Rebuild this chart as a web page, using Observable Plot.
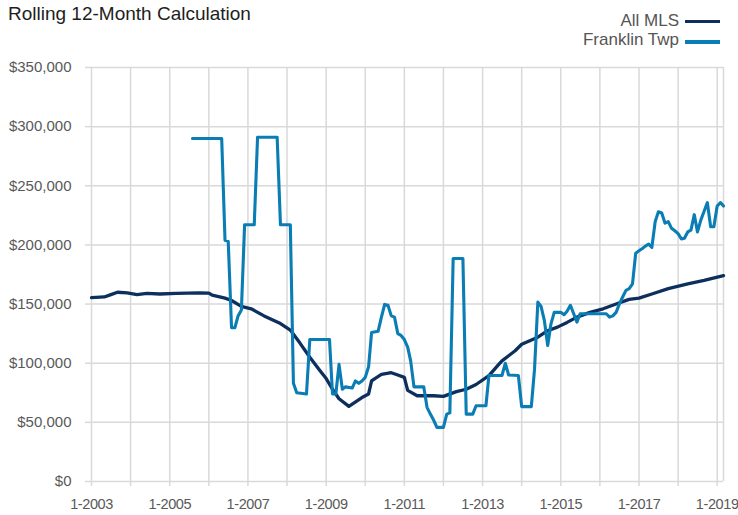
<!DOCTYPE html>
<html>
<head>
<meta charset="utf-8">
<script src="https://cdn.jsdelivr.net/npm/d3@7"></script>
<script src="https://cdn.jsdelivr.net/npm/@observablehq/plot@0.6"></script>
<style>
  html, body { margin: 0; padding: 0; background: #fff; }
  #wrap { position: relative; width: 738px; height: 515px; font-family: "Liberation Sans", Arial, sans-serif; }
  #chart { position: absolute; left: 0; top: 0; }
  #title { position: absolute; left: 8px; top: 4px; font-size: 19px; line-height: 19px; color: #1e1e1e; white-space: nowrap; }
  .leg { position: absolute; right: 59px; font-size: 17px; line-height: 17px; color: #555; white-space: nowrap; }
  .sw { position: absolute; left: 685px; width: 35px; height: 3.3px; }
  .xlab text { letter-spacing: -0.4px; }
</style>
</head>
<body>
<div id="wrap">
  <div id="chart"></div>
  <div id="title">Rolling 12-Month Calculation</div>
</div>
<script>
const seriesNames = ["All MLS", "Franklin Twp"];
const seriesColors = ["#0c2f5e", "#0b7db5"];

const mlsMonths = ["2003-01","2003-05","2003-07","2003-09","2003-12","2004-03","2004-06","2004-10","2005-03","2005-10",
  "2006-01","2006-02","2006-06","2006-08","2006-11","2007-02","2007-06","2007-11","2008-02","2008-05",
  "2008-08","2008-11","2009-01","2009-03","2009-05","2009-08","2009-12","2010-02","2010-03","2010-04",
  "2010-06","2010-09","2010-11","2011-01","2011-02","2011-05","2011-10","2012-01","2012-05","2012-08",
  "2012-11","2013-03","2013-06","2013-07","2013-11","2014-01","2014-06","2014-09","2014-12","2015-03",
  "2015-06","2015-10","2016-02","2016-06","2016-10","2017-01","2017-05","2017-10","2018-04","2018-09","2019-03"];
const mlsValues = [155500,156000,158000,160000,159500,158000,159000,158500,159000,159500,
  159300,157500,155000,153000,148000,146000,140000,133500,128000,117000,
  105000,94000,87000,78000,70000,63500,71000,74000,85000,87000,
  90500,92000,90000,88000,77000,72500,72500,72000,76000,78000,
  82000,89500,99000,102000,110500,116000,122000,127500,130500,134500,
  139000,143000,146000,150000,154000,155000,158500,163000,167000,170000,174000];

const frkMonths = ["2005-08","2006-05","2006-06","2006-07","2006-08","2006-09","2006-10","2006-11","2006-12","2007-03",
  "2007-04","2007-10","2007-11","2008-02","2008-03","2008-04","2008-07","2008-08","2009-02","2009-03",
  "2009-04","2009-05","2009-06","2009-07","2009-09","2009-10","2009-11","2009-12","2010-01","2010-02",
  "2010-03","2010-05","2010-06","2010-07","2010-08","2010-09","2010-10","2010-11","2010-12","2011-01",
  "2011-02","2011-03","2011-04","2011-07","2011-08","2011-09","2011-10","2011-11","2012-01","2012-02",
  "2012-03","2012-04","2012-07","2012-08","2012-10","2012-11","2013-02","2013-03","2013-07","2013-08",
  "2013-09","2013-12","2014-01","2014-04","2014-05","2014-06","2014-07","2014-08","2014-09","2014-10",
  "2014-11","2015-01","2015-02","2015-03","2015-04","2015-05","2015-06","2015-07","2016-03","2016-04",
  "2016-05","2016-06","2016-07","2016-08","2016-09","2016-10","2016-11","2016-12","2017-01","2017-02",
  "2017-03","2017-04","2017-05","2017-06","2017-07","2017-08","2017-09","2017-10","2017-11","2017-12",
  "2018-01","2018-02","2018-03","2018-04","2018-05","2018-06","2018-07","2018-08","2018-09","2018-10",
  "2018-11","2018-12","2019-01","2019-02","2019-03"];
const frkValues = [290000,290000,204000,203000,130000,130000,140000,145000,217000,217000,
  291000,291000,217000,217000,83000,75000,74000,120000,120000,74000,
  74000,99000,78000,80000,79000,85000,83000,85000,88000,97000,
  126000,127000,139000,149700,149000,140000,139000,125000,123500,120000,
  113600,102000,80000,80000,62700,57000,52000,45800,45800,57000,
  58000,188500,188500,57000,57000,64000,64000,89600,89600,100000,
  90000,89600,63300,63300,95000,151700,148000,136000,115000,133000,
  143000,143000,141000,144000,149000,142000,134700,141800,141800,139000,
  140000,143000,150000,156000,161600,163000,167000,193000,195000,197000,
  199000,200700,198000,219700,228000,227000,218400,219700,214000,212000,
  209600,205000,205700,211000,212500,225600,211000,221000,228500,235800,
  215400,215400,232900,235800,232900];

const yTicks = [0, 50000, 100000, 150000, 200000, 250000, 300000, 350000];
const gridYears = [2003,2004,2005,2006,2007,2008,2009,2010,2011,2012,2013,2014,2015,2016,2017,2018,2019];
const labelYears = [2003,2005,2007,2009,2011,2013,2015,2017,2019];
const domainStart = "2003-01";
const domainEnd = "2019-03";

const toDate = s => new Date(s + "-01T00:00:00Z");
const yearDate = y => new Date(Date.UTC(y, 0, 1));

const mls = mlsMonths.map((m, i) => ({date: toDate(m), value: mlsValues[i]}));
const frk = frkMonths.map((m, i) => ({date: toDate(m), value: frkValues[i]}));

const gridColor = "#d9d9d9";
const textColor = "#595959";

const chart = Plot.plot({
  width: 738,
  height: 515,
  marginLeft: 91,
  marginRight: 15,
  marginTop: 67,
  marginBottom: 34,
  x: {type: "utc", domain: [toDate(domainStart), toDate(domainEnd)]},
  y: {domain: [0, 350000]},
  style: {fontFamily: "'Liberation Sans', Arial, sans-serif", fontSize: "15px", background: "transparent", color: textColor},
  marks: [
    Plot.gridY(yTicks, {stroke: gridColor, strokeOpacity: 1, strokeWidth: 1.5}),
    Plot.gridX(gridYears.map(yearDate), {stroke: gridColor, strokeOpacity: 1, strokeWidth: 1.5}),
    Plot.ruleX([toDate(domainEnd)], {stroke: gridColor, strokeWidth: 1.5}),
    Plot.axisY(yTicks, {tickSize: 6, tickPadding: 14, stroke: gridColor, strokeWidth: 1.5, fill: textColor, fontSize: 15,
      tickFormat: d => "$" + d3.format(",")(d), label: null}),
    Plot.axisX(gridYears.map(yearDate), {tickSize: 5, stroke: gridColor, strokeWidth: 1.5, tickFormat: () => "", label: null}),
    Plot.axisX(labelYears.map(yearDate), {tickSize: 0, tickPadding: 17, fill: textColor, fontSize: 14.5, className: "xlab",
      tickFormat: d => "1-" + d.getUTCFullYear(), label: null}),
    Plot.lineY(mls, {x: "date", y: "value", stroke: seriesColors[0], strokeWidth: 3.3, strokeLinejoin: "round"}),
    Plot.lineY(frk, {x: "date", y: "value", stroke: seriesColors[1], strokeWidth: 3.1, strokeLinejoin: "round"})
  ]
});
document.getElementById("chart").appendChild(chart);

// legend
const wrap = document.getElementById("wrap");
const legTops = [11.6, 30.6];
const swTops = [19.8, 40.3];
seriesNames.forEach((name, i) => {
  const t = document.createElement("div");
  t.className = "leg";
  t.style.top = legTops[i] + "px";
  t.textContent = name;
  wrap.appendChild(t);
  const s = document.createElement("div");
  s.className = "sw";
  s.style.top = swTops[i] + "px";
  s.style.background = seriesColors[i];
  wrap.appendChild(s);
});
</script>
</body>
</html>
